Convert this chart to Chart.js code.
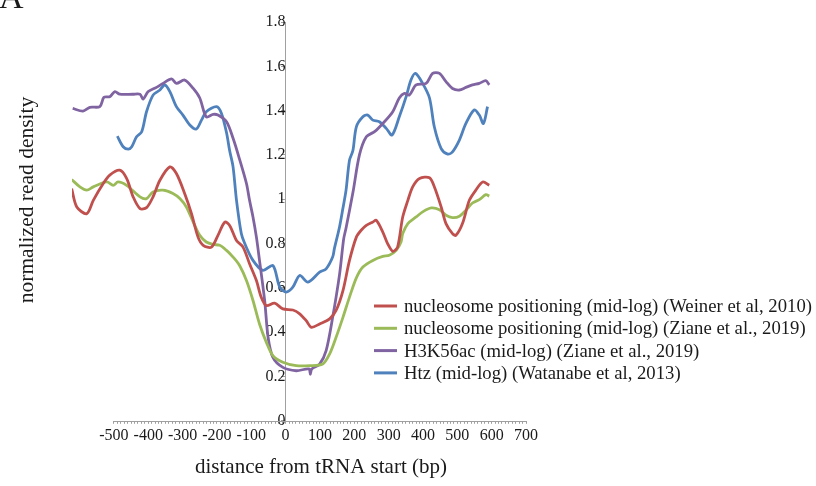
<!DOCTYPE html>
<html>
<head>
<meta charset="utf-8">
<script src="https://cdn.jsdelivr.net/npm/chart.js@4.4.1/dist/chart.umd.min.js"></script>
<style>
  html, body { margin: 0; padding: 0; background: #fff; }
  #wrap { position: relative; width: 816px; height: 486px; }
</style>
</head>
<body>
<div id="wrap"><canvas id="chart" width="816" height="486"></canvas></div>
<script>
// Series data (x = bp from tRNA start, y = normalized read density)
const seriesLabels = [
    'nucleosome positioning (mid-log) (Weiner et al, 2010)',
    'nucleosome positioning (mid-log) (Ziane et al., 2019)',
    'H3K56ac (mid-log) (Ziane et al., 2019)',
    'Htz (mid-log) (Watanabe et al, 2013)'
];
const seriesColors = ['#c0504d', '#9bbb59', '#8064a2', '#4f81bd'];

const weinerX = [-623, -608, -579, -560, -531, -512, -483, -463, -444, -424, -405, -386, -366, -337, -318, -294, -274, -255, -240, -216, -197, -177, -163, -143, -124, -105, -85, -71, -56, -32, -8, 21, 41, 60, 75, 99, 128, 147, 167, 186, 206, 220, 235, 254, 264, 283, 297, 312, 326, 341, 356, 370, 390, 419, 433, 453, 467, 486, 496, 515, 535, 554, 574, 593];
const weinerY = [1.048, 0.965, 0.935, 0.995, 1.071, 1.109, 1.131, 1.094, 1.011, 0.958, 0.962, 1.011, 1.086, 1.146, 1.116, 1.026, 0.935, 0.829, 0.792, 0.784, 0.837, 0.897, 0.882, 0.814, 0.784, 0.709, 0.633, 0.558, 0.52, 0.531, 0.505, 0.50, 0.483, 0.452, 0.422, 0.437, 0.46, 0.498, 0.588, 0.724, 0.829, 0.86, 0.882, 0.897, 0.905, 0.852, 0.80, 0.765, 0.784, 0.92, 0.995, 1.056, 1.094, 1.097, 1.056, 0.965, 0.89, 0.845, 0.837, 0.89, 0.995, 1.041, 1.078, 1.063];

const zianeNucX = [-623, -599, -579, -560, -521, -502, -488, -463, -424, -405, -386, -357, -328, -308, -289, -269, -250, -231, -211, -192, -172, -153, -134, -114, -95, -76, -56, -37, -8, 31, 70, 108, 128, 147, 167, 186, 206, 225, 254, 283, 302, 322, 336, 341, 356, 380, 399, 424, 448, 467, 486, 506, 525, 544, 564, 583, 593];
const zianeNucY = [1.089, 1.056, 1.041, 1.056, 1.078, 1.063, 1.078, 1.063, 1.011, 1.003, 1.033, 1.041, 1.026, 1.003, 0.965, 0.897, 0.837, 0.807, 0.796, 0.792, 0.769, 0.739, 0.701, 0.633, 0.543, 0.437, 0.354, 0.294, 0.264, 0.249, 0.249, 0.256, 0.301, 0.377, 0.467, 0.558, 0.645, 0.694, 0.724, 0.742, 0.747, 0.769, 0.807, 0.845, 0.89, 0.92, 0.943, 0.961, 0.953, 0.928, 0.917, 0.923, 0.95, 0.983, 0.998, 1.021, 1.014];

const h3k56X = [-620, -590, -570, -541, -529, -512, -497, -483, -445, -424, -415, -400, -376, -357, -332, -318, -294, -269, -250, -231, -211, -197, -172, -153, -134, -114, -105, -95, -85, -76, -61, -51, -37, -8, 31, 68, 72, 76, 99, 118, 137, 157, 169, 176, 196, 215, 235, 259, 283, 312, 331, 346, 360, 380, 409, 428, 448, 467, 486, 506, 525, 544, 564, 583, 593];
const h3k56Y = [1.41, 1.398, 1.415, 1.418, 1.46, 1.463, 1.486, 1.474, 1.474, 1.474, 1.452, 1.486, 1.505, 1.523, 1.543, 1.523, 1.538, 1.50, 1.457, 1.372, 1.383, 1.38, 1.35, 1.275, 1.18, 1.071, 0.995, 0.92, 0.829, 0.724, 0.543, 0.377, 0.286, 0.241, 0.226, 0.234, 0.21, 0.234, 0.256, 0.317, 0.467, 0.66, 0.82, 0.87, 1.03, 1.2, 1.282, 1.305, 1.342, 1.395, 1.457, 1.478, 1.47, 1.516, 1.523, 1.568, 1.568, 1.531, 1.50, 1.493, 1.505, 1.516, 1.523, 1.535, 1.516];

const htzX = [-490, -473, -458, -448, -434, -419, -405, -386, -366, -352, -337, -318, -299, -279, -260, -245, -231, -201, -187, -172, -163, -153, -143, -129, -119, -95, -66, -37, -17, 2, 21, 41, 65, 99, 118, 137, 142, 157, 167, 176, 186, 196, 206, 225, 239, 254, 273, 293, 310, 331, 351, 365, 378, 399, 419, 433, 453, 472, 486, 506, 525, 549, 564, 576, 588];
const htzY = [1.285, 1.237, 1.226, 1.237, 1.282, 1.305, 1.395, 1.47, 1.493, 1.516, 1.486, 1.418, 1.38, 1.335, 1.317, 1.357, 1.395, 1.418, 1.388, 1.30, 1.22, 1.146, 0.995, 0.845, 0.80, 0.724, 0.679, 0.701, 0.603, 0.581, 0.603, 0.656, 0.626, 0.671, 0.686, 0.739, 0.777, 0.875, 0.96, 1.041, 1.176, 1.22, 1.327, 1.372, 1.38, 1.357, 1.35, 1.32, 1.29, 1.372, 1.463, 1.538, 1.568, 1.523, 1.457, 1.327, 1.229, 1.204, 1.214, 1.267, 1.342, 1.403, 1.38, 1.342, 1.418];

// Axis ticks
const xTickMin = -500;
const xTickMax = 700;
const yTickMax = 1.8;

const serif = '"Liberation Serif", "DejaVu Serif", serif';
const textColor = '#1a1a1a';
const axisColor = '#a0a0a0';

function toPoints(xs, ys) {
    return xs.map((x, i) => ({ x: x, y: ys[i] }));
}

const allSeries = [
    toPoints(weinerX, weinerY),
    toPoints(zianeNucX, zianeNucY),
    toPoints(h3k56X, h3k56Y),
    toPoints(htzX, htzY)
];

// Draws the partial x axis line, the legend, the axis titles and the panel letter
const decorPlugin = {
    id: 'decor',
    afterDraw(chart) {
        const ctx = chart.ctx;
        const xs = chart.scales.x;
        const ys = chart.scales.y;
        ctx.save();

        // x axis line only over the labelled range
        const yLine = Math.round(ys.getPixelForValue(0)) + 0.5;
        ctx.strokeStyle = axisColor;
        ctx.lineWidth = 1;
        ctx.beginPath();
        ctx.moveTo(xs.getPixelForValue(xTickMin), yLine);
        ctx.lineTo(xs.getPixelForValue(xTickMax), yLine);
        ctx.stroke();

        // legend
        ctx.font = '18.7px ' + serif;
        ctx.textBaseline = 'middle';
        ctx.textAlign = 'left';
        seriesLabels.forEach((label, i) => {
            const rowY = 306 + i * 22.3;
            ctx.strokeStyle = seriesColors[i];
            ctx.lineWidth = 3;
            ctx.beginPath();
            ctx.moveTo(374, rowY);
            ctx.lineTo(397, rowY);
            ctx.stroke();
            ctx.fillStyle = textColor;
            ctx.fillText(label, 404, rowY + 1);
        });

        // x axis title, centred under the labelled range
        ctx.textAlign = 'center';
        ctx.font = '21px ' + serif;
        ctx.fillText('distance from tRNA start (bp)', 321, 467);

        // y axis title
        ctx.save();
        ctx.translate(27, 200);
        ctx.rotate(-Math.PI / 2);
        ctx.font = '21.5px ' + serif;
        ctx.fillText('normalized read density', 0, 0);
        ctx.restore();

        // panel letter
        ctx.font = '34px ' + serif;
        ctx.textAlign = 'left';
        ctx.textBaseline = 'alphabetic';
        ctx.fillText('A', -1, 8);

        ctx.restore();
    }
};

const ctx = document.getElementById('chart').getContext('2d');
new Chart(ctx, {
    type: 'line',
    data: {
        datasets: allSeries.map((pts, i) => ({
            label: seriesLabels[i],
            data: pts,
            borderColor: seriesColors[i],
            backgroundColor: seriesColors[i],
            borderWidth: 2.8,
            pointRadius: 0,
            tension: 0.3,
            fill: false
        }))
    },
    options: {
        responsive: false,
        animation: false,
        layout: { padding: { left: 72, right: 290, top: 22, bottom: 39 } },
        plugins: {
            legend: { display: false },
            tooltip: { enabled: false }
        },
        scales: {
            x: {
                type: 'linear',
                min: -622,
                max: xTickMax,
                position: 'bottom',
                border: { display: false },
                grid: { drawOnChartArea: false, drawTicks: true, tickLength: 3, color: axisColor },
                afterBuildTicks(scale) {
                    const ticks = [];
                    for (let v = xTickMin; v <= xTickMax; v += 10) ticks.push({ value: v });
                    scale.ticks = ticks;
                },
                ticks: {
                    autoSkip: false,
                    maxRotation: 0,
                    padding: 2,
                    color: textColor,
                    font: { family: serif, size: 16 },
                    callback: v => (v % 100 === 0 ? String(v) : '')
                }
            },
            y: {
                type: 'linear',
                min: 0,
                max: yTickMax,
                position: { x: 0 },
                border: { display: true, color: axisColor, width: 1 },
                grid: { drawOnChartArea: false, drawTicks: true, tickLength: 4, color: axisColor },
                ticks: {
                    stepSize: 0.2,
                    padding: 1,
                    color: textColor,
                    font: { family: serif, size: 16 },
                    callback: v => String(Math.round(v * 10) / 10)
                }
            }
        }
    },
    plugins: [decorPlugin]
});
</script>
</body>
</html>
